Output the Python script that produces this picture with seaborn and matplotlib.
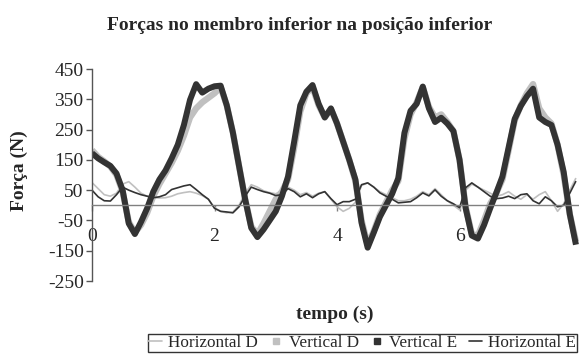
import numpy as np
import pandas as pd
import matplotlib
matplotlib.use("Agg")
import matplotlib.pyplot as plt
from matplotlib.lines import Line2D
import seaborn as sns

# Sampling instants (s)
tempo = np.round(np.arange(0, 80) * 0.1, 1)

horizontal_d = [75, 55, 35, 30, 40, 70, 78, 60, 40, 30,
                25, 24, 25, 30, 38, 42, 45, 40, 32, 20,
                -8, -20, -25, -22, 0, 40, 68, 60, 48, 42,
                38, 48, 60, 50, 35, 42, 30, 40, 45, 20,
                -5, -20, -10, 10, 65, 74, 60, 45, 35, 25,
                15, 15, 20, 30, 45, 35, 55, 35, 15, 0,
                -15, 50, 70, 60, 50, 40, 30, 35, 45, 30,
                20, 35, 20, 35, 45, 15, -20, 5, 50, 90]

vertical_d = [182, 160, 145, 128, 100, 45, -55, -90, -65, -25,
              30, 70, 105, 140, 180, 230, 290, 320, 340, 355,
              370, 390, 330, 240, 130, 20, -70, -95, -60, -20,
              20, 45, 85, 190, 310, 370, 390, 330, 290, 318,
              270, 210, 150, 80, -50, -130, -85, -30, 10, 50,
              80, 220, 300, 340, 390, 325, 290, 300, 275, 245,
              150, -5, -95, -100, -50, 5, 40, 85, 180, 280,
              330, 370, 400, 320, 290, 270, 200, 100, -30, -120]

vertical_e = [172, 155, 142, 130, 105, 50, -60, -95, -55, -10,
              45, 85, 115, 155, 200, 265, 348, 400, 372, 385,
              393, 395, 330, 240, 130, 20, -75, -105, -80, -50,
              -20, 30, 95, 210, 330, 375, 397, 335, 290, 320,
              270, 210, 150, 85, -58, -140, -90, -38, 0, 38,
              90, 239, 312, 335, 392, 320, 275, 289, 270, 245,
              150, -10, -100, -110, -65, -10, 41, 95, 190, 285,
              328, 360, 385, 290, 275, 265, 200, 110, -30, -130]

horizontal_e = [50, 28, 15, 14, 35, 60, 50, 42, 35, 30,
                25, 28, 35, 52, 58, 64, 68, 52, 35, 20,
                -10, -20, -22, -25, -5, 30, 60, 52, 45, 40,
                32, 35, 55, 45, 28, 38, 25, 38, 45, 22,
                2, 12, 12, 20, 68, 74, 60, 41, 30, 20,
                8, 10, 12, 25, 41, 31, 51, 30, 15, 5,
                -8, 58, 74, 60, 45, 30, 22, 24, 30, 22,
                35, 38, 15, 5, 28, 15, -5, 0, 40, 80]

series_names = ["Horizontal D", "Vertical D", "Vertical E", "Horizontal E"]
series_values = [horizontal_d, vertical_d, vertical_e, horizontal_e]
series_colors = ["#c0c0c0", "#c0c0c0", "#333333", "#333333"]
series_widths = [1.2, 4.6, 4.3, 1.2]

y_ticks = [-250, -150, -50, 50, 150, 250, 350, 450]
x_ticks = [0, 2, 4, 6]

sns.set_style("white")
plt.rcParams["font.family"] = ["Liberation Serif", "DejaVu Serif"]

fig = plt.figure(figsize=(5.79, 3.62), dpi=100)
ax = fig.add_axes([92 / 579, 1 - 281 / 362, 1 - 92 / 579, (281 - 69) / 362])

for name, vals, col, lw in zip(series_names, series_values, series_colors, series_widths):
    df = pd.DataFrame({"tempo": tempo, "forca": vals})
    sns.lineplot(data=df, x="tempo", y="forca", ax=ax, color=col, linewidth=lw,
                 solid_joinstyle="round", solid_capstyle="butt", legend=False)

ax.set_xlim(0, 7.95)
ax.set_ylim(-250, 450)
ax.set_yticks(y_ticks)
ax.set_xticks(x_ticks)
ax.set_xticklabels([str(v) for v in x_ticks])
ax.set_yticklabels([str(v) for v in y_ticks])

ax.spines["top"].set_visible(False)
ax.spines["right"].set_visible(False)
ax.spines["bottom"].set_position(("data", 0))
ax.spines["bottom"].set_color("#808080")
ax.spines["bottom"].set_linewidth(1.0)
ax.spines["left"].set_color("#555555")
ax.spines["left"].set_linewidth(1.0)

ax.tick_params(axis="y", direction="out", length=4, width=1, color="#555555",
               labelsize=14, pad=2, left=True)
ax.tick_params(axis="x", direction="out", length=4, width=1, color="#808080",
               labelsize=14, pad=12, bottom=True)

ax.set_xlabel("")
ax.set_ylabel("Força (N)", fontsize=14, fontweight="bold")
ax.yaxis.set_label_coords(-0.131, 0.52)

fig.text(300 / 579, 1 - 25 / 362, "Forças no membro inferior na posição inferior",
         ha="center", va="center", fontsize=14, fontweight="bold")
fig.text(335 / 579, 1 - 314 / 362, "tempo (s)", ha="center", va="center",
         fontsize=14, fontweight="bold")

handles = [
    Line2D([], [], color="#c0c0c0", linewidth=1.2),
    Line2D([], [], color="#c0c0c0", linestyle="none", marker="s", markersize=4),
    Line2D([], [], color="#333333", linestyle="none", marker="s", markersize=4),
    Line2D([], [], color="#333333", linewidth=1.2),
]
leg = fig.legend(handles, series_names, loc="center right", ncol=4,
                 bbox_to_anchor=(577 / 579, 1 - 343 / 362), frameon=True,
                 fancybox=False, edgecolor="black", fontsize=12.3,
                 handlelength=0.8, handletextpad=0.35, columnspacing=0.65,
                 borderpad=0.05, borderaxespad=0)
leg.get_frame().set_linewidth(1.0)

fig.savefig("out.png", dpi=100)
